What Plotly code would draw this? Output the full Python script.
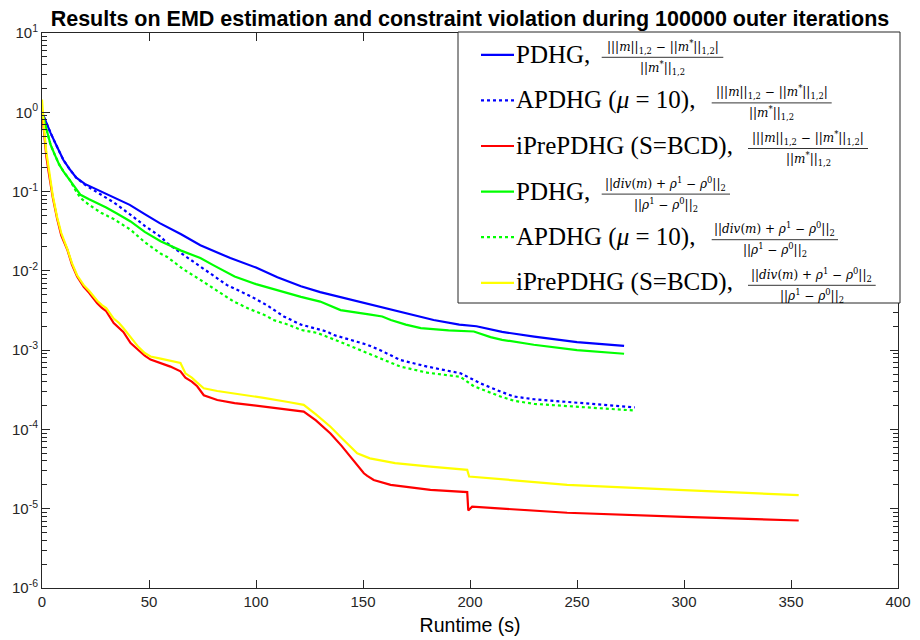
import plotly.graph_objects as go

# ---------------- data ----------------
pdhg_m_x = [0, 1, 2, 4, 6, 8, 10, 13, 16, 20, 25, 33, 41, 48, 55, 65, 74, 88, 100, 110, 121, 130, 145, 161,
            170, 183, 195, 203, 215, 230, 250, 272]
pdhg_m_y = [1.0, 0.85, 0.72, 0.55, 0.42, 0.32, 0.25, 0.19, 0.15, 0.125, 0.108, 0.087, 0.068, 0.052, 0.040,
            0.029, 0.021, 0.0145, 0.0110, 0.0083, 0.0064, 0.0054, 0.0043, 0.0034, 0.0029, 0.0024, 0.0021,
            0.0020, 0.0017, 0.00148, 0.00126, 0.00113]

apdhg_m_x = [0, 1, 2, 4, 6, 8, 10, 13, 16, 20, 25, 30, 33.5, 41.4, 48, 55.4, 58.5, 66, 74, 80, 86.5, 97.4,
             105, 113, 121, 133, 136.4, 152, 158, 167.5, 180, 195.6, 198.7, 205, 214.3, 220.5, 230, 245,
             260, 277]
apdhg_m_y = [1.0, 0.85, 0.72, 0.55, 0.42, 0.32, 0.25, 0.19, 0.15, 0.122, 0.100, 0.084, 0.073, 0.051, 0.037,
             0.027, 0.0224, 0.016, 0.0114, 0.0088, 0.0066, 0.0048, 0.0037, 0.00266, 0.0021, 0.00172,
             0.00155, 0.00117, 0.0010, 0.00075, 0.00062, 0.00051, 0.00046, 0.00038, 0.00030, 0.00026,
             0.00024, 0.000224, 0.000205, 0.00019]

iprepdhg_m_x = [0, 0.5, 1, 2, 3.2, 5, 7.1, 9, 11.8, 14, 16.4, 19.5, 22, 25.8, 28, 30, 33.5, 36, 38, 41.4,
                45, 48, 50.7, 55.4, 60, 64.7, 67, 70, 72.5, 75.6, 81.9, 90, 103.6, 115, 122.3, 128, 134.8,
                140, 145, 150.4, 152, 155, 162.9, 181.5, 198.7, 199.2, 201, 245.4, 300, 353.6]
iprepdhg_m_y = [1.05, 0.75, 0.5, 0.28, 0.17, 0.085, 0.045, 0.028, 0.0186, 0.012, 0.0085, 0.0063, 0.0053,
                0.0039, 0.0034, 0.0031, 0.0022, 0.0019, 0.0017, 0.00123, 0.00100, 0.00085, 0.00076,
                0.00069, 0.00062, 0.00054, 0.00045, 0.00040, 0.00035, 0.00027, 0.000235, 0.000215,
                0.000194, 0.000178, 0.000168, 0.00013, 0.000089, 0.000062, 0.000042, 0.000028, 0.000026,
                0.000023, 0.00002, 0.0000173, 0.0000162, 0.0000095, 0.0000106, 0.0000089, 0.0000079,
                0.0000071]

pdhg_r_x = [0, 1, 2, 4, 6, 8, 10, 13, 16, 18, 22, 25.8, 30, 35, 41.4, 48, 55.4, 65, 74, 80, 86.5, 90, 100,
            106.8, 115, 121, 130, 139.5, 153.5, 159, 163, 170, 177, 190, 201.8, 209.6, 215, 229.8, 250, 272]
pdhg_r_y = [1.0, 0.8, 0.6, 0.39, 0.29, 0.22, 0.18, 0.14, 0.105, 0.091, 0.080, 0.072, 0.063, 0.053, 0.042,
            0.031, 0.0236, 0.018, 0.0145, 0.0118, 0.0094, 0.0085, 0.0068, 0.0060, 0.0052, 0.0047, 0.0041,
            0.0032, 0.0028, 0.00266, 0.0024, 0.0021, 0.0019, 0.00178, 0.00172, 0.00146, 0.00135, 0.00117,
            0.00100, 0.00090]

apdhg_r_x = [0, 1, 2, 4, 6, 8, 10, 13, 16, 18, 22, 27.6, 33.5, 41.4, 48, 55.4, 58.5, 66, 74, 82, 89.6, 97,
             105, 108, 115, 121, 128.6, 140, 152, 160, 167.5, 180, 195.6, 201.8, 214.3, 220.5, 230, 250, 277]
apdhg_r_y = [1.0, 0.8, 0.6, 0.39, 0.29, 0.22, 0.18, 0.14, 0.10, 0.083, 0.068, 0.054, 0.045, 0.033, 0.023,
             0.0165, 0.015, 0.0105, 0.0077, 0.0056, 0.0041, 0.0033, 0.0027, 0.0024, 0.0021, 0.0018, 0.00165,
             0.00125, 0.00093, 0.00075, 0.00062, 0.00052, 0.00046, 0.00035, 0.00026, 0.00023, 0.00021,
             0.000192, 0.000173]

iprepdhg_r_x = [0, 0.5, 1, 2, 3.2, 5, 7.1, 9, 11.8, 14, 16.4, 19.5, 22, 25.8, 28, 30, 33.5, 36, 38, 41.4,
                45, 48, 50.7, 55.4, 60, 64.7, 67, 70, 72.5, 75.6, 81.9, 88, 103.6, 115, 122.3, 128, 134.8,
                140, 147.3, 153.2, 165, 181.5, 198.7, 199.6, 245.4, 300, 353.6]
iprepdhg_r_y = [1.45, 0.9, 0.6, 0.32, 0.18, 0.09, 0.047, 0.030, 0.019, 0.0125, 0.0088, 0.0066, 0.0056,
                0.0042, 0.0037, 0.0034, 0.0025, 0.0022, 0.0019, 0.00148, 0.0011, 0.00092, 0.00083,
                0.00078, 0.00074, 0.00069, 0.00051, 0.00045, 0.00039, 0.00033, 0.000305, 0.00029,
                0.00025, 0.000222, 0.000204, 0.000155, 0.000108, 0.000078, 0.00005, 0.0000432,
                0.0000375, 0.0000339, 0.0000309, 0.0000255, 0.00002, 0.0000172, 0.0000148]

y_tickvals = [1e-6, 1e-5, 1e-4, 1e-3, 1e-2, 1e-1, 1e0, 1e1]
y_ticktext = ["10<sup>-6</sup>", "10<sup>-5</sup>", "10<sup>-4</sup>", "10<sup>-3</sup>",
              "10<sup>-2</sup>", "10<sup>-1</sup>", "10<sup>0</sup>", "10<sup>1</sup>"]
x_tickvals = [0, 50, 100, 150, 200, 250, 300, 350, 400]

title_text = "Results on EMD estimation and constraint violation during 100000 outer iterations"
x_title = "Runtime (s)"

legend_labels = ["PDHG, ", "APDHG (<i>μ</i> = 10), ", "iPrePDHG (S=BCD), ",
                 "PDHG, ", "APDHG (<i>μ</i> = 10), ", "iPrePDHG (S=BCD), "]
num_m = "|||<i>m</i>||<sub>1,2</sub> − ||<i>m</i><sup>*</sup>||<sub>1,2</sub>|"
den_m = "||<i>m</i><sup>*</sup>||<sub>1,2</sub>"
num_r = "||<i>div</i>(<i>m</i>) + <i>ρ</i><sup>1</sup> − <i>ρ</i><sup>0</sup>||<sub>2</sub>"
den_r = "||<i>ρ</i><sup>1</sup> − <i>ρ</i><sup>0</sup>||<sub>2</sub>"

# ---------------- styling ----------------
BLUE, RED, GREEN, YELLOW = "#0000ff", "#ff0000", "#00ff00", "#ffff00"
AX = "#262626"
SANS = "Liberation Sans, Arial, Helvetica, sans-serif"
SERIF = "Liberation Serif, Times New Roman, serif"
MSERIF = "DejaVu Serif, serif"

series = [
    (pdhg_m_x, pdhg_m_y, BLUE, "solid"),
    (apdhg_m_x, apdhg_m_y, BLUE, "dot"),
    (iprepdhg_m_x, iprepdhg_m_y, RED, "solid"),
    (pdhg_r_x, pdhg_r_y, GREEN, "solid"),
    (apdhg_r_x, apdhg_r_y, GREEN, "dot"),
    (iprepdhg_r_x, iprepdhg_r_y, YELLOW, "solid"),
]

fig = go.Figure()
for (xs, ys, col, dash), name in zip(series, legend_labels):
    fig.add_trace(go.Scatter(x=xs, y=ys, mode="lines", name=name, showlegend=False,
                             line=dict(color=col, width=2.2, dash=dash)))

# page body has an 8px margin: figure origin sits at (8, 8) in the screenshot
OFF = 8
W, H = 912, 632
ML, MR, MT, MB = 34, 22, 25, 52
PW, PH = W - ML - MR, H - MT - MB


def px(xs):
    """screen x pixel -> paper x"""
    return (xs - OFF - ML) / PW


def py(ys):
    """screen y pixel -> paper y"""
    return (OFF + H - MB - ys) / PH


shapes = []
annotations = []
# legend box
shapes.append(dict(type="rect", xref="paper", yref="paper", x0=px(458), x1=px(900), y0=py(303), y1=py(32),
                   line=dict(color=AX, width=1), fillcolor="white", layer="above"))
bar_ys = [57.3, 102.9, 148.5, 194.1, 239.7, 285.3]
bar_x = [(601.7, 723.3), (711.7, 831.7), (748, 868), (601.7, 730), (711.7, 838), (748, 875.7)]
nums = [num_m, num_m, num_m, num_r, num_r, num_r]
dens = [den_m, den_m, den_m, den_r, den_r, den_r]
for i, ((xs, ys, col, dash), lab) in enumerate(zip(series, legend_labels)):
    by = bar_ys[i]
    ly = by - 2.5
    shapes.append(dict(type="line", xref="paper", yref="paper", x0=px(481), x1=px(514), y0=py(ly), y1=py(ly),
                       line=dict(color=col, width=2.2, dash=dash), layer="above"))
    annotations.append(dict(xref="paper", yref="paper", x=px(515), y=py(ly - 0.5), xanchor="left",
                            yanchor="middle", text=lab, showarrow=False, borderpad=0,
                            font=dict(family=SERIF, size=25, color="black")))
    x0, x1 = bar_x[i]
    shapes.append(dict(type="line", xref="paper", yref="paper", x0=px(x0), x1=px(x1), y0=py(by), y1=py(by),
                       line=dict(color="black", width=0.8), layer="above"))
    xc = (x0 + x1) / 2
    annotations.append(dict(xref="paper", yref="paper", x=px(xc), y=py(by - 0.5), xanchor="center",
                            yanchor="bottom", text=nums[i], showarrow=False, borderpad=0,
                            font=dict(family=MSERIF, size=12, color="black")))
    annotations.append(dict(xref="paper", yref="paper", x=px(xc), y=py(by + 0.5), xanchor="center",
                            yanchor="top", text=dens[i], showarrow=False, borderpad=0,
                            font=dict(family=MSERIF, size=12, color="black")))

minor_vals = [k * 10.0 ** e for e in range(-6, 1) for k in range(2, 10)]

fig.update_layout(
    width=W, height=H,
    margin=dict(l=ML, r=MR, t=MT, b=MB, autoexpand=False),
    paper_bgcolor="white", plot_bgcolor="white",
    title=dict(text=f"<b>{title_text}</b>", x=0.5, xref="paper", xanchor="center",
               y=1 - 2.5 / H, yref="container", yanchor="top", pad=dict(t=0, b=0),
               font=dict(family=SANS, size=21.5, color="black")),
    shapes=shapes,
    annotations=annotations,
    xaxis=dict(range=[0, 400], tickvals=x_tickvals, ticks="inside", ticklen=8, tickcolor=AX,
               showline=True, linecolor=AX, linewidth=1, mirror="ticks", showgrid=False, zeroline=False,
               automargin=False,
               tickfont=dict(family=SANS, size=15, color=AX),
               title=dict(text=x_title, font=dict(family=SANS, size=19.5, color="black"), standoff=9)),
    yaxis=dict(type="log", range=[-6, 1], tickvals=y_tickvals, ticktext=y_ticktext, ticks="inside",
               ticklen=8, tickcolor=AX, showline=True, linecolor=AX, linewidth=1, mirror="ticks",
               showgrid=False, zeroline=False, automargin=False,
               tickfont=dict(family=SANS, size=15, color=AX),
               minor=dict(tickvals=minor_vals, ticks="inside", ticklen=5, tickcolor=AX, showgrid=False)),
)

fig.write_html("out.html")
